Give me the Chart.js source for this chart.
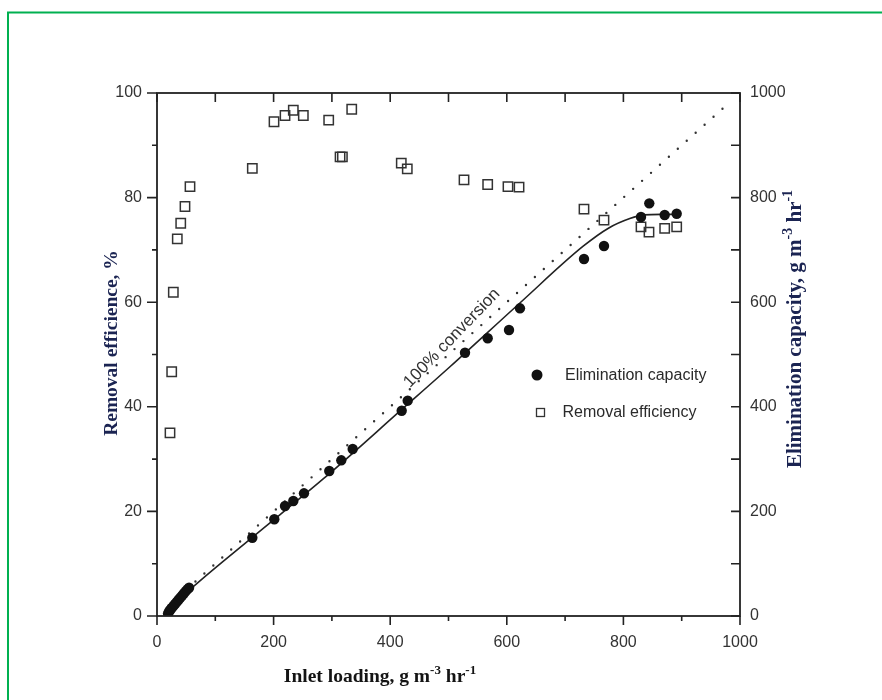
<!DOCTYPE html>
<html><head><meta charset="utf-8">
<script src="https://cdn.jsdelivr.net/npm/chart.js@4.4.1/dist/chart.umd.min.js"></script>
<style>html,body{margin:0;padding:0;background:#fff;}canvas{display:block;}</style>
</head><body>
<canvas id="c" width="882" height="700"></canvas>
<script>
// Removal efficiency (%) vs inlet loading
const reLoading = [22.3,25.2,28.0,34.8,40.7,48.0,56.6,163.5,200.7,219.6,233.8,251,294.5,314,318,334,419,429.3,526.6,567.2,602,621,732.4,766.7,830.2,843.9,870.8,891.4];
const reValues  = [35.0,46.7,61.9,72.1,75.1,78.3,82.1,85.6,94.5,95.7,96.7,95.7,94.8,87.8,87.8,96.9,86.6,85.5,83.4,82.5,82.1,82.0,77.8,75.7,74.4,73.4,74.1,74.4];
// Elimination capacity (g m-3 hr-1) vs inlet loading
const ecLoading = [19,21,23,25,28,31,34,37,40,43,46,49,52,55,163.5,201.2,219.6,233.8,252.1,295.5,316.1,335.7,419.7,430,528.3,567.2,603.8,622.6,732.4,766.7,830.2,844.4,870.8,891.4];
const ecValues  = [5,9,12,15,19,23,27,31,35,39,43,47,51,54,149.7,184.9,210.3,219.9,234.6,277.2,297.7,319.3,392.5,411.7,503.4,531,546.8,588.3,682.6,707.5,763,789,766.7,769.2];
// Fitted curve (solid line)
const fitLoading  = [18,40,60,163,285,420,503,622,731,775,811,835,865,897];
const fitCapacity = [6,33,54,150,262,395,477,598,707,742,760,767,768,768];
// 100% conversion line (dotted)
const convLoading  = [20,980];
const convCapacity = [20,980];
// Tick values
const xTicks = [0,200,400,600,800,1000];
const yLeftTicks = [0,20,40,60,80,100];
const yRightTicks = [0,200,400,600,800,1000];

const pts = (xs, ys) => xs.map((x,i)=>({x, y: ys[i]}));
const tickFont = {family:'"Liberation Sans", Arial, sans-serif', size:16};
const tickColor = '#333';
const plainLabel = v => String(v);

function drawParts(ctx, parts, x, y, mainFont, supFont, supRise){
  let total = 0;
  parts.forEach(p=>{ctx.font = p.sup?supFont:mainFont; p.w = ctx.measureText(p.t).width; total += p.w;});
  let cx = x - total/2;
  parts.forEach(p=>{ctx.font = p.sup?supFont:mainFont; ctx.fillText(p.t, cx, p.sup? y - supRise : y); cx += p.w;});
  return total;
}

const decor = {
  id:'decor',
  beforeDraw(chart){
    const ctx = chart.ctx; ctx.save();
    ctx.fillStyle='#fff'; ctx.fillRect(0,0,chart.width,chart.height);
    ctx.strokeStyle='#00b050'; ctx.lineWidth=2;
    ctx.beginPath(); ctx.moveTo(8,chart.height); ctx.lineTo(8,12.5); ctx.lineTo(chart.width,12.5); ctx.stroke();
    ctx.restore();
  },
  afterDraw(chart){
    const ctx = chart.ctx, a = chart.chartArea, sx = chart.scales.x, sy = chart.scales.y, sy2 = chart.scales.y2;
    ctx.save();
    ctx.strokeStyle='#222'; ctx.lineWidth=1.8;
    ctx.strokeRect(a.left, a.top, a.right-a.left, a.bottom-a.top);
    ctx.lineWidth=1.6;
    ctx.beginPath();
    for(let v=0; v<=1000; v+=100){
      const px = sx.getPixelForValue(v);
      ctx.moveTo(px, a.bottom); ctx.lineTo(px, a.bottom + (v%200===0?9:5));
      ctx.moveTo(px, a.top); ctx.lineTo(px, a.top + 9);
      const py = sy2.getPixelForValue(v);
      ctx.moveTo(a.right, py); ctx.lineTo(a.right - 9, py);
    }
    for(let v=0; v<=100; v+=10){
      const py = sy.getPixelForValue(v);
      ctx.moveTo(a.left, py); ctx.lineTo(a.left - (v%20===0?10:5), py);
    }
    ctx.stroke();

    // axis titles
    const serifB = s => 'bold '+s+'px "Liberation Serif", "Times New Roman", serif';
    ctx.textBaseline='middle'; ctx.textAlign='left';
    ctx.fillStyle='#1b2452';
    ctx.save(); ctx.translate(112,343); ctx.rotate(-Math.PI/2);
    drawParts(ctx,[{t:'Removal efficience, %'}],0,0,serifB(19.5),serifB(13),8);
    ctx.restore();
    ctx.save(); ctx.translate(796,329); ctx.rotate(-Math.PI/2);
    drawParts(ctx,[{t:'Elimination capacity, g m'},{t:'-3',sup:true},{t:' hr'},{t:'-1',sup:true}],0,0,serifB(21),serifB(14),8);
    ctx.restore();
    ctx.fillStyle='#141414'; ctx.textBaseline='alphabetic';
    drawParts(ctx,[{t:'Inlet loading, g m'},{t:'-3',sup:true},{t:' hr'},{t:'-1',sup:true}],380,682,serifB(19.5),serifB(13),8);

    // legend
    ctx.fillStyle='#111';
    ctx.beginPath(); ctx.arc(537,375,5.5,0,Math.PI*2); ctx.fill();
    ctx.strokeStyle='#333'; ctx.lineWidth=1.3;
    ctx.strokeRect(536.5,408.5,8,8);
    ctx.fillStyle='#2a2a2a'; ctx.font='16px "Liberation Sans", Arial, sans-serif'; ctx.textBaseline='middle'; ctx.textAlign='left';
    ctx.fillText('Elimination capacity',565,376);
    ctx.fillText('Removal efficiency',562.5,413);

    // 100% conversion label
    const lx = sx.getPixelForValue(506), ly = sy2.getPixelForValue(531.5);
    ctx.save(); ctx.translate(lx,ly); ctx.rotate(-46*Math.PI/180);
    ctx.font='17px "Liberation Sans", Arial, sans-serif'; ctx.textAlign='center'; ctx.fillStyle='#333';
    ctx.fillText('100% conversion',0,0);
    ctx.restore();
    ctx.restore();
  }
};

new Chart(document.getElementById('c'), {
  type:'scatter',
  data:{datasets:[
    {label:'Elimination capacity', data:pts(ecLoading,ecValues), yAxisID:'y2', pointStyle:'circle', pointRadius:5.2, backgroundColor:'#111', borderColor:'#111', borderWidth:0},
    {label:'Removal efficiency', data:pts(reLoading,reValues), yAxisID:'y', pointStyle:'rect', pointRadius:6.6, backgroundColor:'rgba(0,0,0,0)', borderColor:'#333', borderWidth:1.5},
    {label:'fit', data:pts(fitLoading,fitCapacity), yAxisID:'y2', showLine:true, pointRadius:0, borderColor:'#222', borderWidth:1.6, cubicInterpolationMode:'monotone'},
    {label:'100% conversion', data:pts(convLoading,convCapacity), yAxisID:'y2', showLine:true, pointRadius:0, borderColor:'#333', borderWidth:2.4, borderDash:[0,12], borderCapStyle:'round'}
  ]},
  options:{
    responsive:false, animation:false, devicePixelRatio:1,
    layout:{padding:{top:93,left:0,right:0,bottom:0}},
    plugins:{legend:{display:false}, tooltip:{enabled:false}},
    scales:{
      x:{type:'linear', position:'bottom', min:0, max:1000,
        afterBuildTicks(s){s.ticks = xTicks.map(v=>({value:v}));},
        ticks:{padding:17, font:tickFont, color:tickColor, maxRotation:0, autoSkip:false, callback:plainLabel},
        grid:{display:false, drawTicks:false}, border:{display:false},
        afterFit(s){s.height=84;}},
      y:{type:'linear', position:'left', min:0, max:100,
        afterBuildTicks(s){s.ticks = yLeftTicks.map(v=>({value:v}));},
        ticks:{padding:15, font:tickFont, color:tickColor, autoSkip:false, callback:plainLabel},
        grid:{display:false, drawTicks:false}, border:{display:false},
        afterFit(s){s.width=157;}},
      y2:{type:'linear', position:'right', min:0, max:1000,
        afterBuildTicks(s){s.ticks = yRightTicks.map(v=>({value:v}));},
        ticks:{padding:10, font:tickFont, color:tickColor, autoSkip:false, callback:plainLabel},
        grid:{display:false, drawTicks:false}, border:{display:false},
        afterFit(s){s.width=142;}}
    }
  },
  plugins:[decor]
});
</script>
</body></html>
